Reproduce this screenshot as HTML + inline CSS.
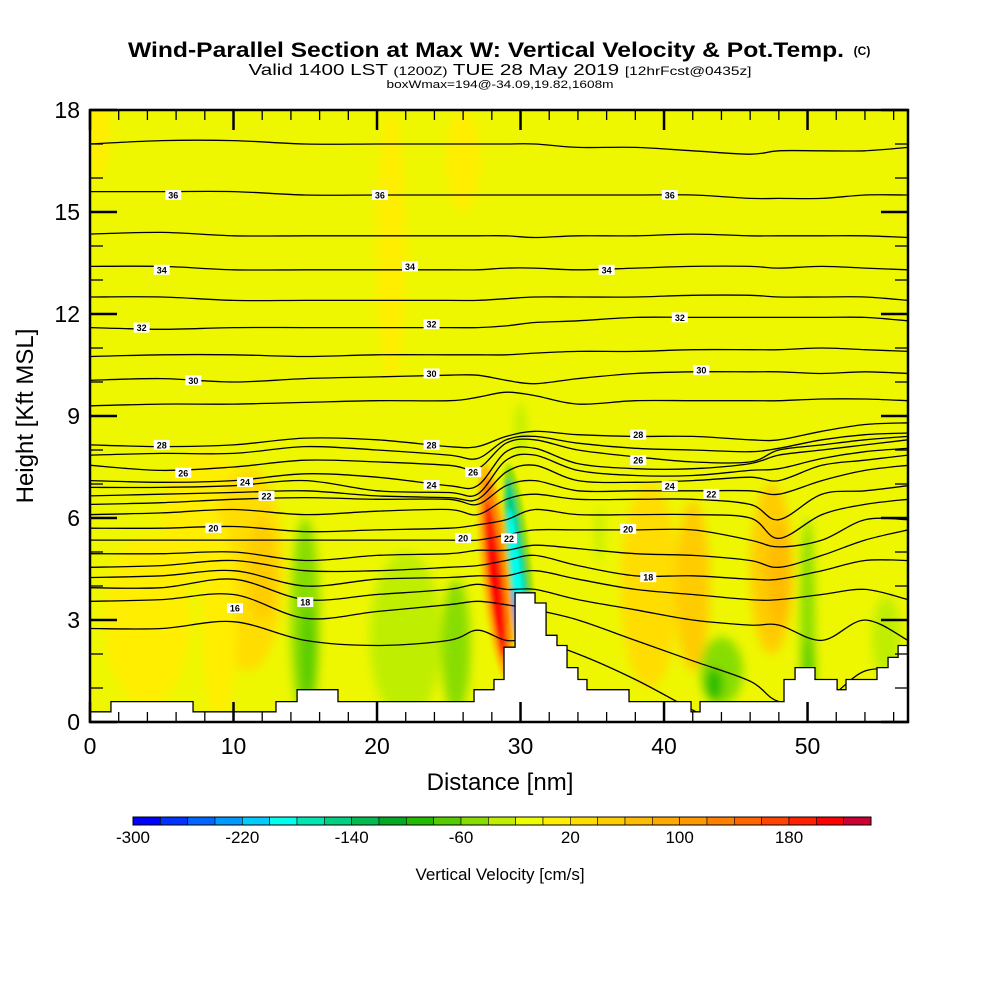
<!DOCTYPE html>
<html><head><meta charset="utf-8"><style>
html,body{margin:0;padding:0;background:#fff;}
svg{display:block;font-family:"Liberation Sans",sans-serif;}
</style></head><body>
<svg id="chart" width="1000" height="1000" viewBox="0 0 1000 1000">
<defs>
<filter id="blur4" x="-50%" y="-50%" width="200%" height="200%"><feGaussianBlur stdDeviation="5"/></filter>
<filter id="blur2" x="-50%" y="-50%" width="200%" height="200%"><feGaussianBlur stdDeviation="2"/></filter>
<clipPath id="plotclip"><rect x="90" y="110" width="818" height="612"/></clipPath>
</defs>
<g>
<text x="486" y="57" text-anchor="middle" font-size="21" font-weight="bold" textLength="716" lengthAdjust="spacingAndGlyphs">Wind-Parallel Section at Max W: Vertical Velocity &amp; Pot.Temp.</text>
<text x="862" y="55" text-anchor="middle" font-size="12" font-weight="bold">(C)</text>
<text x="500" y="75" text-anchor="middle" font-size="16" textLength="503" lengthAdjust="spacingAndGlyphs">Valid 1400 LST <tspan font-size="12">(1200Z)</tspan> TUE 28 May 2019 <tspan font-size="12">[12hrFcst@0435z]</tspan></text>
<text x="500" y="88" text-anchor="middle" font-size="11" textLength="227" lengthAdjust="spacingAndGlyphs">boxWmax=194@-34.09,19.82,1608m</text>
</g>
<rect x="90" y="110" width="818" height="612" fill="#eef700"/>
<g id="field" clip-path="url(#plotclip)"></g>
<g id="contours" clip-path="url(#plotclip)"></g>
<g id="terrain"></g>
<g id="labels" clip-path="url(#plotclip)"></g>
<g id="axes"></g>
<rect x="90" y="110" width="818" height="612" fill="none" stroke="#000" stroke-width="2.5"/>
<text x="500" y="790" text-anchor="middle" font-size="24">Distance [nm]</text>
<text transform="translate(33,416) rotate(-90)" text-anchor="middle" font-size="24">Height [Kft MSL]</text>
<g id="colorbar"></g>
<text x="500" y="880" text-anchor="middle" font-size="17">Vertical Velocity [cm/s]</text>
</svg>
<script>
const xNodes=[0,5,10,15,20,25,27,29,31,34,38,42,46,48,51,54,57];
const thetaLines=[
[17.0,17.1,17.1,17.0,17.0,17.0,17.0,17.0,17.0,16.9,16.9,16.8,16.7,16.8,16.8,16.8,16.9],
[15.6,15.6,15.6,15.5,15.5,15.5,15.5,15.5,15.5,15.5,15.5,15.5,15.4,15.4,15.4,15.5,15.5],
[14.35,14.4,14.3,14.3,14.3,14.3,14.3,14.3,14.25,14.3,14.3,14.35,14.3,14.3,14.3,14.3,14.25],
[13.4,13.4,13.3,13.3,13.3,13.3,13.3,13.35,13.35,13.3,13.35,13.4,13.4,13.35,13.4,13.35,13.3],
[12.5,12.5,12.4,12.4,12.4,12.4,12.4,12.45,12.5,12.5,12.5,12.55,12.55,12.5,12.5,12.5,12.4],
[11.6,11.55,11.6,11.6,11.6,11.6,11.6,11.65,11.75,11.8,11.9,11.9,11.9,11.9,11.9,11.9,11.8],
[10.75,10.8,10.8,10.75,10.8,10.8,10.8,10.8,10.85,10.9,10.9,10.95,10.95,10.95,11.0,10.95,10.9],
[10.05,10.1,10.0,10.1,10.15,10.2,10.2,10.05,9.95,10.1,10.25,10.3,10.3,10.3,10.25,10.3,10.25],
[9.3,9.35,9.35,9.4,9.45,9.45,9.55,9.7,9.6,9.35,9.45,9.45,9.45,9.45,9.5,9.5,9.45],
[8.15,8.1,8.15,8.35,8.3,8.1,8.1,8.4,8.55,8.45,8.4,8.4,8.3,8.3,8.55,8.75,8.8],
[7.85,7.9,7.9,8.1,8.0,7.85,7.75,8.3,8.4,8.2,8.05,8.0,7.95,8.05,8.3,8.45,8.5],
[7.55,7.4,7.5,7.7,7.65,7.55,7.45,8.2,8.3,8.0,7.8,7.65,7.65,8.0,8.15,8.3,8.4],
[7.1,7.05,7.1,7.3,7.2,6.95,6.95,7.95,8.05,7.6,7.45,7.45,7.6,7.85,8.0,8.15,8.3],
[6.9,6.9,6.95,7.1,6.8,6.75,6.7,7.7,7.85,7.4,7.25,7.25,7.4,7.45,7.75,7.95,8.05],
[6.65,6.7,6.75,6.8,6.65,6.6,6.55,7.35,7.55,7.1,7.05,7.1,7.2,7.1,7.55,7.7,7.85],
[6.4,6.45,6.55,6.6,6.55,6.55,6.4,6.95,7.1,6.8,6.8,6.8,6.8,6.7,7.1,7.4,7.55],
[6.1,6.15,6.25,6.1,6.2,6.25,6.1,6.55,6.7,6.55,6.55,6.55,6.4,5.95,6.7,6.8,6.95],
[5.7,5.7,5.75,5.6,5.65,5.7,5.8,5.95,6.25,6.1,6.1,6.1,6.0,5.4,6.1,6.4,6.55],
[5.35,5.35,5.35,5.35,5.35,5.35,5.35,5.5,5.65,5.65,5.65,5.65,5.35,5.15,5.35,5.95,5.95],
[4.95,4.95,5.0,4.75,4.9,4.95,5.05,5.05,5.2,5.1,4.95,4.9,4.75,4.55,4.9,5.35,5.65],
[4.55,4.6,4.75,4.45,4.45,4.55,4.6,4.75,4.9,4.6,4.3,4.3,4.2,4.2,4.45,4.75,4.75],
[4.25,4.3,4.45,4.0,4.2,4.25,4.3,4.3,4.45,4.2,3.9,3.75,3.6,3.6,3.75,3.9,3.6],
[3.95,3.95,4.2,3.6,3.75,3.9,4.05,3.9,3.9,3.6,3.3,3.0,2.85,2.85,2.4,3.0,2.4],
[3.55,3.6,3.75,3.05,3.25,3.45,3.55,3.45,3.3,3.0,2.4,1.8,1.2,0.6,0.6,1.5,1.5],
[2.75,2.75,2.95,2.4,2.25,2.4,2.7,2.4,2.4,2.0,1.25,0.35,-0.5,-0.5,0,1.0,1.0]
];
const terrainX=[0,1.46,7.18,12.96,14.43,17.28,26.76,28.15,28.85,29.62,31.01,31.78,32.54,33.24,34.0,34.63,37.56,41.88,42.51,48.36,49.13,50.52,52.06,52.68,54.84,55.61,56.31,57];
const terrainH=[0.3,0.6,0.3,0.6,0.95,0.6,0.95,1.25,2.2,3.8,3.5,2.55,2.25,1.6,1.25,0.95,0.6,0.3,0.6,1.25,1.6,1.25,0.95,1.25,1.6,1.9,2.25,2.25];
const blobX=[0.6,21,26,4,8,11,12,15,15.2,22,25.5,9,39,42,47.5,48,50,50.1,44,43.5,55.5,30,35.5];
const blobH=[17.5,14,16.5,3,6,4.5,4.5,3,2,2.5,2.2,3,4,4,4.5,4.3,3,1.5,1.5,1.1,2.5,8.6,5.5];
const blobRX=[0.8,1.0,1.2,3,3,2.5,1,1,0.5,2.5,1,1.2,2,1.2,1.5,0.8,0.5,0.4,1.5,0.6,1,0.4,0.3];
const blobRY=[1.5,4,1.5,2.5,2,3,1.5,3,1.5,2.5,2,3,3,2.5,2.5,1.5,3,1,1,0.5,1.2,0.8,0.8];
const blobW=[15,15,15,15,15,30,45,-50,-70,-25,-45,15,35,45,55,75,-60,-80,-55,-90,-25,-40,-25];
const plumeX=[28.3,28.3,28.25,28.2,29.9,29.8,29.75,29.6];
const plumeH=[4.4,4.4,4.2,4.0,4.6,4.5,4.2,3.2];
const plumeRX=[1.0,0.7,0.45,0.25,0.8,0.55,0.35,0.1];
const plumeRY=[3.2,2.8,2.3,1.5,3.0,2.7,2.1,0.8];
const plumeW=[60,120,180,200,-60,-150,-200,-280];
const cbarLevels=[-300,-280,-260,-240,-220,-200,-180,-160,-140,-120,-100,-80,-60,-40,-20,0,20,40,60,80,100,120,140,160,180,200,220];
const cbarColors=["#0000ff","#0033ff","#0066ff","#0099ff","#00ccff","#00ffee","#00e6b3","#00d080","#00bb50","#00aa22","#22bb00","#55cc00","#88dd00","#c0ee00","#eeff00","#ffee00","#ffdd00","#ffcc00","#ffbb00","#ffaa00","#ff9900","#ff8000","#ff6600","#ff4400","#ff2200","#ff0000","#cc0033"];
const cbarTicks=[-300,-220,-140,-60,20,100,180];
const xTicks=[0,10,20,30,40,50];
const yTicks=[0,3,6,9,12,15,18];
const labelX=[5.8,20.2,40.4,5.0,22.3,36.0,3.6,23.8,41.1,7.2,23.8,42.6,5.0,23.8,38.2,6.5,26.7,38.2,10.8,23.8,40.4,12.3,43.3,8.6,26.0,37.5,15.0,38.9,10.1,29.2];
const labelH=[15.5,15.5,15.5,13.3,13.4,13.3,11.6,11.7,11.9,10.05,10.25,10.35,8.15,8.15,8.45,7.33,7.35,7.7,7.06,6.97,6.94,6.65,6.71,5.71,5.41,5.68,3.53,4.26,3.35,5.4];
const labelText=["36","36","36","34","34","34","32","32","32","30","30","30","28","28","28","26","26","26","24","24","24","22","22","20","20","20","18","18","16","22"];

const NS="http://www.w3.org/2000/svg";
const X0=90,X1=908,Y0=722,Y1=110,XMAX=57,YMAX=18;
const sx=v=>X0+(v/XMAX)*(X1-X0);
const sy=v=>Y0-(v/YMAX)*(Y0-Y1);
const rxs=v=>v/XMAX*(X1-X0);
const rys=v=>v/YMAX*(Y0-Y1);
function colorFor(w){let i=Math.floor((w-cbarLevels[0])/20);i=Math.max(0,Math.min(cbarColors.length-1,i));return cbarColors[i];}
function mk(tag,attrs,parent){const e=document.createElementNS(NS,tag);for(const k in attrs)e.setAttribute(k,attrs[k]);parent.appendChild(e);return e;}

const field=document.getElementById('field');
const fg=mk('g',{filter:'url(#blur4)'},field);
for(let i=0;i<blobX.length;i++){
 const e=mk('ellipse',{cx:sx(blobX[i]),cy:sy(blobH[i]),rx:rxs(blobRX[i]),ry:rys(blobRY[i]),fill:colorFor(blobW[i])},fg);
 
 
}
const pg=mk('g',{filter:'url(#blur2)'},field);
for(let i=0;i<plumeX.length;i++){
 const cx=sx(plumeX[i]),cy=sy(plumeH[i]);
 const e=mk('ellipse',{cx:cx,cy:cy,rx:rxs(plumeRX[i]),ry:rys(plumeRY[i]),fill:colorFor(plumeW[i]),transform:`rotate(-6 ${cx} ${cy})`},pg);
 
 
}

const cont=document.getElementById('contours');
for(const line of thetaLines){
 const pts=xNodes.map((x,i)=>[sx(x),sy(line[i])]);
 let d=`M${pts[0][0]},${pts[0][1]}`;
 for(let i=0;i<pts.length-1;i++){
  const p0=pts[Math.max(0,i-1)],p1=pts[i],p2=pts[i+1],p3=pts[Math.min(pts.length-1,i+2)];
  const c1=[p1[0]+(p2[0]-p0[0])/6,p1[1]+(p2[1]-p0[1])/6],c2=[p2[0]-(p3[0]-p1[0])/6,p2[1]-(p3[1]-p1[1])/6];
  d+=` C${c1[0]},${c1[1]} ${c2[0]},${c2[1]} ${p2[0]},${p2[1]}`;
 }
 const p=mk('path',{d:d,fill:'none',stroke:'#000','stroke-width':1.3},cont);
 
 
}

const ter=document.getElementById('terrain');
let td=`M${sx(0)},${Y0}`;
for(let i=0;i<terrainX.length;i++){
 const nx=i<terrainX.length-1?terrainX[i+1]:XMAX;
 td+=` L${sx(terrainX[i])},${sy(terrainH[i])} L${sx(nx)},${sy(terrainH[i])}`;
}
td+=` L${sx(XMAX)},${Y0} Z`;
const tp=mk('path',{d:td,fill:'#fff',stroke:'#000','stroke-width':1.3},ter);



const lab=document.getElementById('labels');
for(let i=0;i<labelX.length;i++){
 const g=mk('g',{},lab);
 
 
 const x=sx(labelX[i]),y=sy(labelH[i]);
 mk('rect',{x:x-8,y:y-5,width:16,height:10,fill:'#fff'},g);
 const t=mk('text',{x:x,y:y+3.5,'text-anchor':'middle','font-size':9,'font-weight':'bold'},g);
 t.textContent=labelText[i];
}

const ax=document.getElementById('axes');
for(let v=0;v<=56;v+=2){
 const L=(v%10===0)?20:10;
 mk('line',{x1:sx(v),x2:sx(v),y1:Y0,y2:Y0-L,stroke:'#000','stroke-width':v%10===0?2.5:1.3},ax);
 mk('line',{x1:sx(v),x2:sx(v),y1:Y1,y2:Y1+L,stroke:'#000','stroke-width':v%10===0?2.5:1.3},ax);
}
for(let v=0;v<=18;v++){
 const L=(v%3===0)?27:13;
 mk('line',{x1:X0,x2:X0+L,y1:sy(v),y2:sy(v),stroke:'#000','stroke-width':v%3===0?2.5:1.3},ax);
 mk('line',{x1:X1,x2:X1-L,y1:sy(v),y2:sy(v),stroke:'#000','stroke-width':v%3===0?2.5:1.3},ax);
}
for(const v of xTicks){
 const t=mk('text',{x:sx(v),y:754,'text-anchor':'middle','font-size':23},ax);
 
 
 t.textContent=v;
}
for(const v of yTicks){
 const t=mk('text',{x:80,y:sy(v)+8,'text-anchor':'end','font-size':23},ax);
 
 
 t.textContent=v;
}

const cb=document.getElementById('colorbar');
const CB0=133,CB1=871,cw=(CB1-CB0)/cbarColors.length;
for(let i=0;i<cbarColors.length;i++){
 const r=mk('rect',{x:CB0+i*cw,y:817,width:cw,height:8,fill:cbarColors[i],stroke:'#000','stroke-width':0.6},cb);
 
 
}
mk('rect',{x:CB0,y:817,width:CB1-CB0,height:8,fill:'none',stroke:'#000','stroke-width':1},cb);
for(const v of cbarTicks){
 const i=cbarLevels.indexOf(v);
 const t=mk('text',{x:CB0+i*cw,y:843,'text-anchor':'middle','font-size':17},cb);
 
 
 t.textContent=v;
}
</script>
</body></html>
